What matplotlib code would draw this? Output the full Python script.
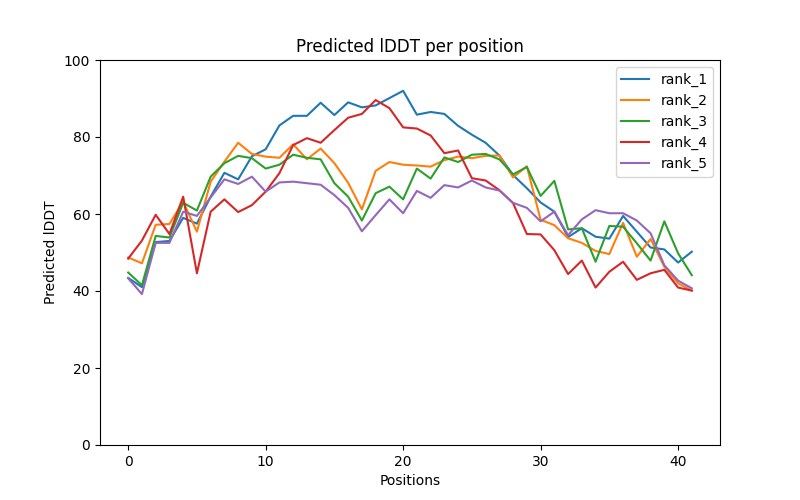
import matplotlib
matplotlib.use("Agg")
import matplotlib.pyplot as plt
import numpy as np

rank_1 = [43.4, 41.0, 52.7, 53.0, 59.0, 57.5, 64.5, 70.7, 69.0, 75.0, 76.8, 83.0, 85.5, 85.5,
          88.9, 85.7, 89.0, 87.7, 88.2, 90.1, 92.0, 85.8, 86.5, 86.0, 82.9, 80.6, 78.5, 75.2,
          70.1, 66.7, 63.0, 60.6, 54.0, 56.3, 54.1, 53.6, 59.5, 55.4, 51.3, 50.8, 47.4, 50.2]
rank_2 = [48.7, 47.2, 57.2, 57.4, 63.2, 55.4, 68.4, 73.6, 78.5, 75.6, 74.9, 74.6, 78.1, 74.2,
          77.0, 73.2, 68.1, 61.2, 71.2, 73.5, 72.8, 72.6, 72.3, 74.0, 74.9, 74.5, 75.1, 75.2,
          69.5, 72.4, 58.5, 57.1, 53.7, 52.5, 50.4, 49.6, 57.7, 48.9, 53.5, 46.3, 42.0, 40.1]
rank_3 = [44.8, 41.5, 54.3, 53.9, 62.9, 60.9, 69.7, 73.2, 75.1, 74.5, 71.8, 72.8, 75.4, 74.6,
          74.2, 68.0, 64.5, 58.3, 65.4, 67.1, 63.8, 71.8, 69.2, 74.7, 73.5, 75.4, 75.6, 74.2,
          70.3, 72.2, 64.7, 68.6, 56.0, 56.3, 47.6, 56.9, 56.7, 52.4, 47.9, 58.1, 49.8, 44.1]
rank_4 = [48.4, 53.1, 59.8, 54.8, 64.5, 44.6, 60.6, 63.8, 60.5, 62.3, 65.8, 70.6, 77.9, 79.7,
          78.5, 81.8, 85.0, 86.0, 89.6, 87.5, 82.5, 82.2, 80.4, 75.8, 76.5, 69.3, 68.7, 66.2,
          62.8, 54.8, 54.7, 50.6, 44.4, 47.9, 40.9, 45.0, 47.6, 42.9, 44.6, 45.5, 40.9, 40.1]
rank_5 = [43.3, 39.2, 52.5, 52.5, 60.6, 59.5, 64.3, 69.0, 67.8, 69.7, 65.8, 68.2, 68.4, 68.0,
          67.6, 64.9, 61.6, 55.5, 59.7, 63.8, 60.2, 66.0, 64.2, 67.5, 66.9, 68.7, 66.9, 66.1,
          62.9, 61.6, 58.1, 60.6, 54.5, 58.6, 61.0, 60.2, 60.2, 58.3, 55.0, 46.7, 42.7, 40.7]

series = {"rank_1": rank_1, "rank_2": rank_2, "rank_3": rank_3, "rank_4": rank_4, "rank_5": rank_5}

fig, ax = plt.subplots(figsize=(8, 5), dpi=100)
for name, vals in series.items():
    ax.plot(np.arange(len(vals)), vals, label=name)
ax.set_ylim(0, 100)
ax.set_title("Predicted lDDT per position")
ax.set_xlabel("Positions")
ax.set_ylabel("Predicted lDDT")
ax.legend(loc="upper right")
fig.savefig("out.png", dpi=100)
